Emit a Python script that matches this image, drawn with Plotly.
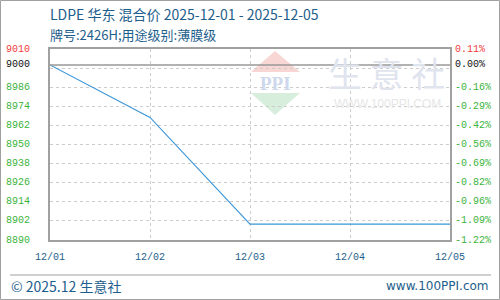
import plotly.graph_objects as go

# ---- data ----
dates = ["12/01", "12/02", "12/03", "12/04", "12/05"]
prices = [9000, 8967, 8900, 8900, 8900]
base_price = 9000
y_min, y_max = 8890, 9010
grid_vals = [8890, 8902, 8914, 8926, 8938, 8950, 8962, 8974, 8986, 8998]
left_labels = ["8890", "8902", "8914", "8926", "8938", "8950", "8962", "8974", "8986"]
right_labels = ["-1.22%", "-1.09%", "-0.96%", "-0.82%", "-0.69%", "-0.56%", "-0.42%", "-0.29%", "-0.16%"]
title1 = "LDPE 华东 混合价 2025-12-01 - 2025-12-05"
title2 = "牌号:2426H;用途级别:薄膜级"
footer_left = "© 2025.12 生意社"
footer_right = "www.100PPI.com"

W, H = 500, 300
L, R, T, B = 50, 50, 49, 60
PW, PH = W - L - R, H - T - B


def px(x):
    return (x - L) / PW


def py(y):
    return (H - B - y) / PH


BLUE = "#1d5e8c"
RED = "#f03c3c"
GREEN = "#3cb43c"
MONO = "Liberation Mono"
CJK = "Noto Sans CJK SC"

fig = go.Figure()
fig.add_trace(go.Scatter(x=dates, y=prices, mode="lines",
                         line=dict(color="#3a96d8", width=1.1),
                         hoverinfo="skip", showlegend=False))

shapes = []
annotations = []

# watermark logo
shapes.append(dict(type="path", xref="paper", yref="paper", layer="below",
                   path=f"M {px(251)} {py(72)} L {px(275)} {py(51)} L {px(300)} {py(72)} Z",
                   fillcolor="#f8d6d3", line=dict(width=0)))
shapes.append(dict(type="path", xref="paper", yref="paper", layer="below",
                   path=f"M {px(251)} {py(93)} L {px(300)} {py(93)} L {px(275)} {py(115)} Z",
                   fillcolor="#d6eedb", line=dict(width=0)))
annotations.append(dict(text="<b>PPI</b>", xref="paper", yref="paper", x=px(275), y=py(83),
                        showarrow=False, font=dict(family="Liberation Serif", size=19, color="#cdd8ec"),
                        xanchor="center", yanchor="middle"))
annotations.append(dict(text="生 意 社", xref="paper", yref="paper", x=px(386), y=py(72),
                        showarrow=False, font=dict(family=CJK, size=34, color="#dfe4ee"),
                        xanchor="center", yanchor="middle"))
annotations.append(dict(text="WWW.100PPI.COM", xref="paper", yref="paper", x=px(387), y=py(104),
                        showarrow=False, font=dict(family="Liberation Sans", size=12, color="#e6e6e6"),
                        xanchor="center", yanchor="middle"))

# base line
shapes.append(dict(type="line", xref="paper", yref="y", x0=0, x1=1, y0=base_price, y1=base_price,
                   line=dict(color="#999999", width=1.5)))

# outer border + footer separator
shapes.append(dict(type="rect", xref="paper", yref="paper", x0=px(0.5), x1=px(499.5),
                   y0=py(299.5), y1=py(0.5), line=dict(color="#a0a0a0", width=1)))
shapes.append(dict(type="line", xref="paper", yref="paper", x0=px(10), x1=px(491),
                   y0=py(275), y1=py(275), line=dict(color="#a0a0a0", width=1)))

# y labels
for v, lt, rt in zip(grid_vals, left_labels, right_labels):
    annotations.append(dict(text=lt, xref="paper", yref="y", x=px(4), y=v, showarrow=False,
                            xanchor="left", yanchor="middle", font=dict(family=MONO, size=10, color=GREEN)))
    annotations.append(dict(text=rt, xref="paper", yref="y", x=px(453), y=v, showarrow=False,
                            xanchor="left", yanchor="middle", font=dict(family=MONO, size=10, color=GREEN)))
top_pct = f"{(y_max - base_price) / base_price * 100:.2f}%"
for v, lt, rt, c in [(y_max, str(y_max), top_pct, RED), (base_price, str(base_price), "0.00%", "#111111")]:
    annotations.append(dict(text=lt, xref="paper", yref="y", x=px(4), y=v, showarrow=False,
                            xanchor="left", yanchor="middle", font=dict(family=MONO, size=10, color=c)))
    annotations.append(dict(text=rt, xref="paper", yref="y", x=px(453), y=v, showarrow=False,
                            xanchor="left", yanchor="middle", font=dict(family=MONO, size=10, color=c)))

# titles and footer
annotations.append(dict(text=title1, xref="paper", yref="paper", x=px(49), y=py(14), showarrow=False,
                        xanchor="left", yanchor="middle", borderpad=0,
                        font=dict(family=CJK, size=14, color=BLUE)))
annotations.append(dict(text=title2, xref="paper", yref="paper", x=px(49), y=py(34), showarrow=False,
                        xanchor="left", yanchor="middle", borderpad=0,
                        font=dict(family=CJK, size=13, color=BLUE)))
annotations.append(dict(text=footer_left, xref="paper", yref="paper", x=px(9), y=py(286), showarrow=False,
                        xanchor="left", yanchor="middle", font=dict(family=CJK, size=14, color=BLUE)))
annotations.append(dict(text=footer_right, xref="paper", yref="paper", x=px(491), y=py(286), showarrow=False,
                        xanchor="right", yanchor="middle", font=dict(family="DejaVu Sans", size=12, color=BLUE)))

fig.update_layout(
    width=W, height=H,
    margin=dict(l=L, r=R, t=T, b=B, pad=0),
    paper_bgcolor="white", plot_bgcolor="white",
    shapes=shapes, annotations=annotations,
    xaxis=dict(type="category", range=[0, len(dates) - 1], showgrid=True,
               gridcolor="#cccccc", griddash="3px,3px", gridwidth=1,
               showline=True, linecolor="#a0a0a0", linewidth=1.5, mirror=True,
               ticks="", tickfont=dict(family=MONO, size=10, color=BLUE), ticklabelstandoff=6,
               zeroline=False),
    yaxis=dict(range=[y_min, y_max], tickvals=grid_vals, showticklabels=False,
               showgrid=True, gridcolor="#cccccc", griddash="3px,3px", gridwidth=1,
               showline=True, linecolor="#a0a0a0", linewidth=1.5, mirror=True,
               ticks="", zeroline=False),
)

fig.write_html("out.html")
